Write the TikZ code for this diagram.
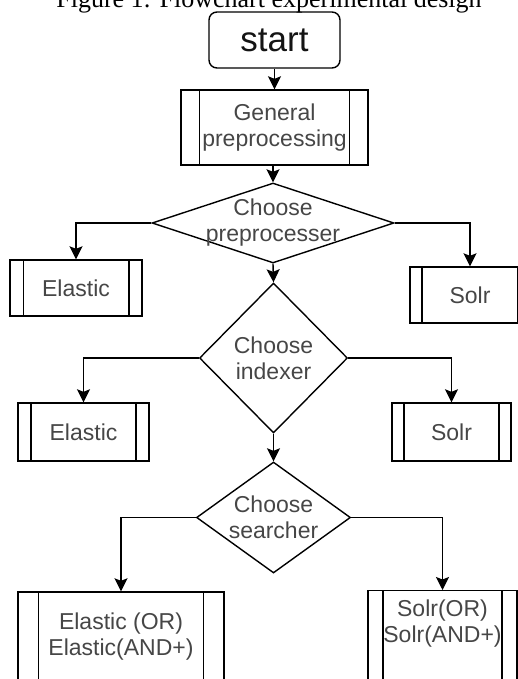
\documentclass[tikz,border=0pt]{standalone}
\usepackage{fontspec}
\setmainfont{Liberation Serif}
\newfontfamily\flowfont{Liberation Sans}
\usetikzlibrary{arrows.meta, shapes.geometric, calc}
\definecolor{cLine} {RGB}{0,0,0}
\definecolor{cText} {RGB}{70,70,70}
\definecolor{cStart}{RGB}{20,20,20}

\begin{document}
\begin{tikzpicture}[
  x=1pt, y=-1pt,
  % ── shared box style
  base/.style={
    draw=cLine, line width=1.4pt, inner sep=0pt, align=center,
    text=cText, font=\flowfont\fontsize{23}{26}\selectfont
  },
  startst/.style={base, rounded corners=8pt, text=cStart,
    font=\flowfont\fontsize{35}{40}\selectfont,
    minimum width=131pt, minimum height=56pt},
  % ── process box with two inner bars at 10 % of the width
  proc/.style={base, path picture={
      \draw[draw=cLine, line width=1.4pt]
        ($(path picture bounding box.north west)!0.1!(path picture bounding box.north east)$)
     -- ($(path picture bounding box.south west)!0.1!(path picture bounding box.south east)$)
        ($(path picture bounding box.north east)!0.1!(path picture bounding box.north west)$)
     -- ($(path picture bounding box.south east)!0.1!(path picture bounding box.south west)$);
    }},
  % ── decisions
  choice/.style={base, diamond},
  lbl/.style={text=cText, align=center, inner sep=0pt,
    font=\flowfont\fontsize{23}{26}\selectfont},
  % ── arrows
  arr/.style={-{Stealth[length=13pt, width=13pt, inset=2.5pt]},
    draw=cLine, line width=1.4pt},
]
\useasboundingbox (0,0) rectangle (518,679);
\clip (0,0) rectangle (518,679);

%% ── caption (cut at the top edge)
\node[font=\fontsize{26}{30}\selectfont, anchor=base, inner sep=0pt] (cap)
  at (269,8) {Figure 1: Flowchart experimental design};

%% ── main column
\node[startst] (start) at (274.5,40) {start};
\node[proc, minimum width=187pt, minimum height=75pt] (gen) at (274.5,127.5)
  {General\\preprocessing};

\node[choice, minimum width=242pt, minimum height=80pt,
      label={[lbl]center:Choose\\preprocesser}] (d1) at (273,223) {};
\node[choice, minimum width=148pt, minimum height=150pt,
      label={[lbl]center:Choose\\indexer}] (d2) at (273.5,358) {};
\node[choice, minimum width=154pt, minimum height=111pt,
      label={[lbl]center:Choose\\searcher}] (d3) at (273.5,517.5) {};

%% ── preprocesser choices
\node[proc, minimum width=132pt, minimum height=56pt] (e1) at (76,288) {Elastic};
\node[proc, minimum width=120pt, minimum height=56pt] (s1) at (470,295) {Solr};

%% ── indexer choices
\node[proc, minimum width=131pt, minimum height=58pt] (e2) at (83.5,432) {Elastic};
\node[proc, minimum width=119pt, minimum height=58pt] (s2) at (451.5,432) {Solr};

%% ── searcher choices (run past the bottom edge)
\node[proc, minimum width=206pt, minimum height=90pt] (e3) at (121,637)
  {Elastic (OR)\\Elastic(AND+)};
\node[proc, minimum width=149pt, minimum height=100pt, anchor=north] (s3)
  at (442.5,590) {};
\node[lbl] (s3t) at ($(s3.north)+(0,33.5)$) {Solr(OR)\\Solr(AND+)};

% Main arrows
\draw[arr] (start) -- (gen);
\draw[arr] (gen.south -| d1.north) -- (d1.north);
\draw[arr] (d1.south) -- (d2.north);
\draw[arr] (d2.south) -- (d3.north);

% Branch arrows
\draw[arr] (d1.west) -| (e1.north);
\draw[arr] (d1.east) -| (s1.north);
\draw[arr] (d2.west) -| (e2.north);
\draw[arr] (d2.east) -| (s2.north);
\draw[arr] (d3.west) -| (e3.north);
\draw[arr] (d3.east) -| (s3.north);

\end{tikzpicture}
\end{document}
